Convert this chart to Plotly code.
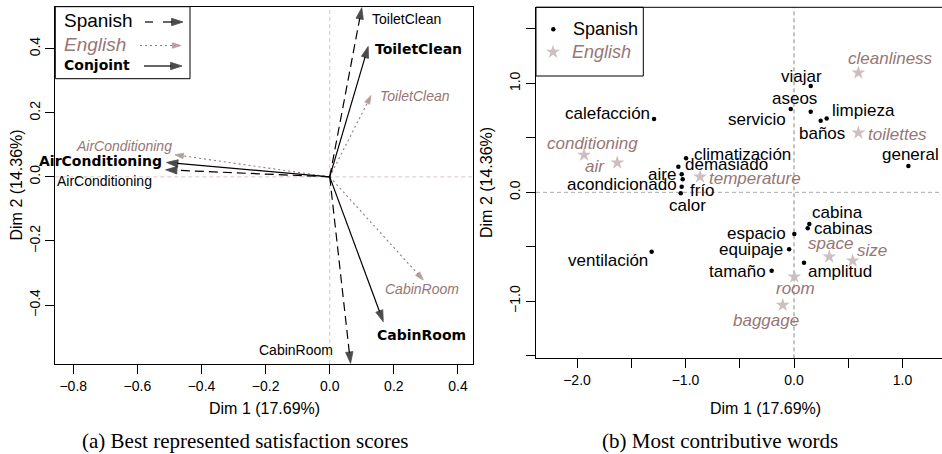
import plotly.graph_objects as go

W, H = 942, 454

# ---------------- Data: panel (a) best represented satisfaction scores ----------------
items = ["ToiletClean", "AirConditioning", "CabinRoom"]
spanish_x = [0.100, -0.512, 0.065]
spanish_y = [0.528, 0.022, -0.582]
english_x = [0.129, -0.483, 0.292]
english_y = [0.254, 0.069, -0.322]
conjoint_x = [0.120, -0.509, 0.167]
conjoint_y = [0.407, 0.045, -0.452]

xticks_a = [-0.8, -0.6, -0.4, -0.2, 0.0, 0.2, 0.4]
xticklabels_a = ["−0.8", "−0.6", "−0.4", "−0.2", "0.0", "0.2", "0.4"]
yticks_a = [-0.4, -0.2, 0.0, 0.2, 0.4]
yticklabels_a = ["−0.4", "−0.2", "0.0", "0.2", "0.4"]

# ---------------- Data: panel (b) most contributive words ----------------
es_words = ["viajar", "aseos", "servicio", "limpieza", "baños", "calefacción",
            "climatización", "demasiado", "aire", "frío", "acondicionado", "calor",
            "general", "cabina", "cabinas", "espacio", "equipaje", "ventilación",
            "tamaño", "amplitud"]
es_x = [0.154, 0.154, -0.030, 0.301, 0.246, -1.290,
        -0.995, -1.066, -1.035, -1.026, -1.035, -1.044,
        1.054, 0.141, 0.126, 0.003, -0.045, -1.312,
        -0.206, 0.092]
es_y = [0.976, 0.740, 0.765, 0.679, 0.658, 0.673,
        0.312, 0.235, 0.165, 0.119, 0.051, -0.009,
        0.242, -0.290, -0.330, -0.383, -0.522, -0.545,
        -0.720, -0.646]

en_words = ["cleanliness", "toilettes", "conditioning", "air", "temperature",
            "space", "size", "room", "baggage"]
en_x = [0.593, 0.593, -1.935, -1.629, -0.866, 0.325, 0.541, 0.003, -0.104]
en_y = [1.098, 0.547, 0.343, 0.272, 0.143, -0.591, -0.628, -0.775, -1.035]

xticks_b = [-2.0, -1.5, -1.0, -0.5, 0.0, 0.5, 1.0]
xticklabels_b = ["−2.0", "", "−1.0", "", "0.0", "", "1.0"]
yticks_b = [-1.5, -1.0, -0.5, 0.0, 0.5, 1.0, 1.5]
yticklabels_b = ["", "−1.0", "", "0.0", "", "1.0", ""]

# ---------------- Styles ----------------
BROWN = "#977676"
STAR = "#cdbfbf"
SANS = "Liberation Sans, Arial, sans-serif"
BOLD = "DejaVu Sans, Verdana, sans-serif"
SERIF = "Liberation Serif, Times New Roman, serif"

# label placement (anchor, dx px, dy px downward) per item
lab_a = {
    "spanish": [("left", 8, 11), ("right", -12, 11), ("right", -16, -13)],
    "conjoint": [("left", 5, 3), ("right", -3, -1), ("left", -8, 13)],
    "english": [("left", 7, 1), ("right", -1, -9), ("center", -1, 9)],
}
lab_es = [("center", -9, -10), ("center", -16, -13), ("right", -3, 10), ("left", 3, -8),
          ("center", 1, 13), ("right", -2, -6), ("left", 6, -4), ("left", 5, -2),
          ("right", -4, 0), ("left", 5, 11), ("right", -3, -2), ("center", 7, 12),
          ("center", 2, -11), ("left", 1, -11), ("left", 4, 0), ("right", -6, -1),
          ("right", -4, 0), ("right", -2, 9), ("right", -4, 1), ("left", 2, 9)]
lab_en = [("center", 32, -14), ("left", 8, 2), ("center", 8, -11), ("right", -10, 4),
          ("left", 7, 2), ("center", 1, -13), ("left", 2, -10), ("center", 1, 12),
          ("center", -17, 15)]

fig = go.Figure()


def arrow_trace(x, y, color, dash, xa, ya, width=1.2, size=9):
    return go.Scatter(
        x=x, y=y, xaxis=xa, yaxis=ya, mode="lines+markers",
        line=dict(color=color, width=width, dash=dash),
        marker=dict(symbol="arrow", angleref="previous", size=[0] * (len(x) - 1) + [size],
                    color=color, line=dict(width=0.8, color=color)),
        hoverinfo="skip", showlegend=False, cliponaxis=False)


# panel (a) arrows
for i in range(len(items)):
    fig.add_trace(arrow_trace([0, english_x[i]], [0, english_y[i]], BROWN, "2px,3px", "x", "y", 1.1, 9))
for i in range(len(items)):
    fig.add_trace(arrow_trace([0, spanish_x[i]], [0, spanish_y[i]], "black", "9px,5px", "x", "y", 1.2, 12))
for i in range(len(items)):
    fig.add_trace(arrow_trace([0, conjoint_x[i]], [0, conjoint_y[i]], "black", "solid", "x", "y", 1.2, 12))

annotations = []


def lab(x, y, text, anchor, dx, dy, xr, yr, font):
    annotations.append(dict(x=x, y=y, xref=xr, yref=yr, text=text, showarrow=False,
                            xanchor=anchor, yanchor="middle", xshift=dx, yshift=-dy, font=font))


for i, it in enumerate(items):
    a, dx, dy = lab_a["spanish"][i]
    lab(spanish_x[i], spanish_y[i], it, a, dx, dy, "x", "y", dict(family=SANS, size=14, color="black"))
    a, dx, dy = lab_a["conjoint"][i]
    lab(conjoint_x[i], conjoint_y[i], "<b>%s</b>" % it, a, dx, dy, "x", "y",
        dict(family=BOLD, size=14, color="black"))
    a, dx, dy = lab_a["english"][i]
    lab(english_x[i], english_y[i], "<i>%s</i>" % it, a, dx, dy, "x", "y",
        dict(family=SANS, size=14, color=BROWN))

# panel (b) points
fig.add_trace(go.Scatter(x=en_x, y=en_y, xaxis="x2", yaxis="y2", mode="markers",
                         marker=dict(symbol="star", size=10.5, color=STAR, line=dict(width=0)),
                         hoverinfo="skip", showlegend=False))
fig.add_trace(go.Scatter(x=es_x, y=es_y, xaxis="x2", yaxis="y2", mode="markers",
                         marker=dict(symbol="circle", size=4.5, color="black"),
                         hoverinfo="skip", showlegend=False))
for i, w in enumerate(es_words):
    a, dx, dy = lab_es[i]
    lab(es_x[i], es_y[i], w, a, dx, dy, "x2", "y2", dict(family=SANS, size=17, color="black"))
for i, w in enumerate(en_words):
    a, dx, dy = lab_en[i]
    lab(en_x[i], en_y[i], "<i>%s</i>" % w, a, dx, dy, "x2", "y2", dict(family=SANS, size=17, color=BROWN))

# ---------------- legends (pixel overlay axis x3/y3) ----------------
# panel (a) legend glyphs
fig.add_trace(go.Scatter(x=[145, 153], y=[22, 22], xaxis="x3", yaxis="y3", mode="lines",
                         line=dict(color="black", width=1.2), hoverinfo="skip", showlegend=False))
fig.add_trace(arrow_trace([163, 183], [22, 22], "black", "solid", "x3", "y3", 1.2, 12))
fig.add_trace(arrow_trace([140, 181], [45.5, 45.5], BROWN, "2px,3px", "x3", "y3", 1.1, 9))
fig.add_trace(arrow_trace([144, 182], [66, 66], "black", "solid", "x3", "y3", 1.2, 12))
# panel (b) legend glyphs
fig.add_trace(go.Scatter(x=[553.3], y=[29.3], xaxis="x3", yaxis="y3", mode="markers",
                         marker=dict(symbol="circle", size=4.5, color="black"),
                         hoverinfo="skip", showlegend=False))
fig.add_trace(go.Scatter(x=[553], y=[52], xaxis="x3", yaxis="y3", mode="markers",
                         marker=dict(symbol="star", size=10.5, color=STAR, line=dict(width=0)),
                         hoverinfo="skip", showlegend=False))


def ptext(x, y, text, font, anchor="left", angle=0):
    annotations.append(dict(x=x, y=y, xref="x3", yref="y3", text=text, showarrow=False,
                            xanchor=anchor, yanchor="middle", font=font, textangle=angle))


ptext(62, 20.5, "Spanish", dict(family=SANS, size=19, color="black"))
ptext(62, 44, "<i>English</i>", dict(family=SANS, size=19, color=BROWN))
ptext(62, 65, "<b>Conjoint</b>", dict(family=BOLD, size=14, color="black"))
ptext(570.5, 29, "Spanish", dict(family=SANS, size=18, color="black"))
ptext(570, 52, "<i>English</i>", dict(family=SANS, size=18, color=BROWN))

# axis titles
ptext(264, 408, "Dim 1 (17.69%)", dict(family=SANS, size=16, color="black"), "center")
ptext(765, 408, "Dim 1 (17.69%)", dict(family=SANS, size=16, color="black"), "center")
ptext(16, 185.5, "Dim 2 (14.36%)", dict(family=SANS, size=16, color="black"), "center", -90)
ptext(486, 183, "Dim 2 (14.36%)", dict(family=SANS, size=16, color="black"), "center", -90)
# captions
ptext(245, 441, "(a) Best represented satisfaction scores", dict(family=SERIF, size=21, color="black"), "center")
ptext(720, 441, "(b) Most contributive words", dict(family=SERIF, size=21, color="black"), "center")

shapes = [
    # zero reference lines
    dict(type="line", xref="x", yref="y domain", x0=0, x1=0, y0=0, y1=1,
         line=dict(color="#d9c6c6", width=1, dash="4px,3px"), layer="below"),
    dict(type="line", xref="x domain", yref="y", x0=0, x1=1, y0=0, y1=0,
         line=dict(color="#d9c6c6", width=1, dash="4px,3px"), layer="below"),
    dict(type="line", xref="x2", yref="y2 domain", x0=0, x1=0, y0=0, y1=1,
         line=dict(color="#888888", width=1, dash="4px,3px"), layer="below"),
    dict(type="line", xref="x2 domain", yref="y2", x0=0, x1=1, y0=0, y1=0,
         line=dict(color="#aaaaaa", width=1, dash="4px,3px"), layer="below"),
    # top border of panel (b)
    dict(type="line", xref="x3", yref="y3", x0=536, x1=942, y0=7.3, y1=7.3,
         line=dict(color="black", width=1)),
    # legend boxes
    dict(type="rect", xref="x3", yref="y3", x0=55.3, x1=190, y0=6.7, y1=78.7,
         line=dict(color="black", width=1), fillcolor="white", layer="below"),
    dict(type="rect", xref="x3", yref="y3", x0=536, x1=643.3, y0=7.3, y1=76,
         line=dict(color="black", width=1), fillcolor="white", layer="below"),
]

tickfont = dict(family=SANS, size=14, color="black")
common = dict(showgrid=False, zeroline=False, showline=True, linecolor="black", linewidth=1,
              ticks="outside", ticklen=9, tickcolor="black", tickfont=tickfont, fixedrange=True)

fig.update_layout(
    width=W, height=H, margin=dict(l=0, r=0, t=0, b=0),
    paper_bgcolor="white", plot_bgcolor="rgba(0,0,0,0)",
    showlegend=False,
    xaxis=dict(domain=[55.3 / W, 472.7 / W], range=[-0.856, 0.446], anchor="y", mirror=True,
               tickmode="array", tickvals=xticks_a, ticktext=xticklabels_a, **common),
    yaxis=dict(domain=[(H - 364) / H, (H - 6.7) / H], range=[-0.584, 0.531], anchor="x", mirror=True,
               tickmode="array", tickvals=yticks_a, ticktext=yticklabels_a, tickangle=-90, **common),
    xaxis2=dict(domain=[536 / W, 1.0], range=[-2.378, 1.364], anchor="y2",
                tickmode="array", tickvals=xticks_b, ticktext=xticklabels_b, **common),
    yaxis2=dict(domain=[(H - 358.3) / H, (H - 7.3) / H], range=[-1.524, 1.699], anchor="x2",
                tickmode="array", tickvals=yticks_b, ticktext=yticklabels_b, tickangle=-90, **common),
    xaxis3=dict(domain=[0, 1], range=[0, W], anchor="y3", visible=False, fixedrange=True),
    yaxis3=dict(domain=[0, 1], range=[H, 0], anchor="x3", visible=False, fixedrange=True),
    annotations=annotations,
    shapes=shapes,
)

fig.write_html("out.html", config={"displayModeBar": False},
               post_script="document.body.style.margin='0';document.body.style.overflow='hidden';")
